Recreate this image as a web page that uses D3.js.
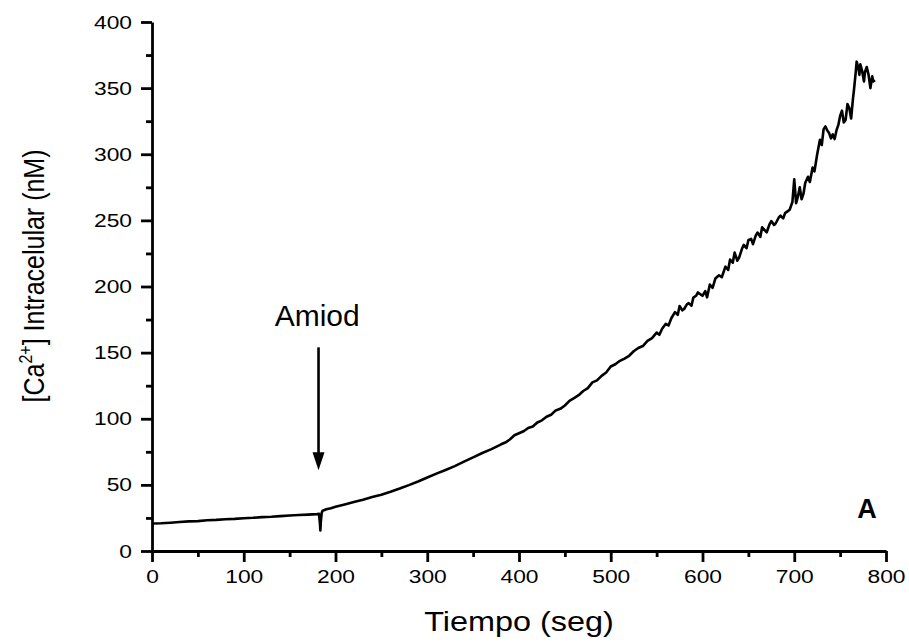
<!DOCTYPE html>
<meta charset="utf-8">
<style>
  body { margin: 0; background: #fff; }
  svg text { font-family: "Liberation Sans", Arial, sans-serif; fill: #000; }
</style>
<svg width="909" height="644"></svg>
<script src="https://cdn.jsdelivr.net/npm/d3@7"></script>
<script>

// time (seg) and intracellular calcium (nM)
var timeSec = [0, 10, 20, 30, 40, 50, 60, 70, 80, 90, 100, 110, 120, 130, 140, 150, 160, 170, 180,
  182, 183, 183.5, 184, 185, 186, 190, 195, 200, 210, 220, 230, 240, 250, 260, 270, 280, 290, 300,
  310, 320, 330, 340, 350, 360, 370, 380, 385, 390, 395,
  400, 405, 410, 415, 420, 425, 430, 435, 440, 445, 450, 455, 460, 465, 470, 475, 480, 485, 490, 495,
  500, 505, 510, 515, 520, 525, 530, 535, 540, 545, 550, 553, 556, 560, 563, 566, 570, 573, 575, 578,
  580, 583, 585, 588, 590, 593, 595, 598, 600, 603, 605, 608, 611, 614, 618, 621, 625, 628, 630, 633,
  635, 638, 640, 643, 645, 648, 650, 653, 655, 658, 660, 663, 665, 668, 670, 673, 675, 678, 680, 683,
  685, 688, 690, 693, 695, 698, 700, 702, 704, 706, 708, 710, 712, 715, 717, 720, 722, 725, 728, 730,
  732, 734, 736, 738, 740, 742, 744, 746, 748, 750, 752, 754, 756, 758, 760, 762, 764, 765, 767, 768,
  770, 771, 772, 774, 776, 777, 779, 781, 783, 785, 786, 788];
var caNM = [20.8, 21.0, 21.4, 21.9, 22.4, 22.6, 23.2, 23.5, 24.0, 24.3, 24.8, 25.1, 25.6, 25.9, 26.4, 26.8, 27.2, 27.5, 27.9,
  28.1, 21.0, 15.5, 22.0, 29.0, 30.5, 31.5, 32.4, 33.5, 35.2, 37.0, 38.8, 40.9, 42.6, 44.8, 47.2, 49.8, 52.6, 55.6,
  58.5, 61.3, 64.2, 67.6, 70.8, 74.1, 77.0, 80.5, 82.0, 84.3, 87.5,
  89.0, 90.5, 93.0, 94.2, 97.2, 98.8, 101.5, 103.0, 106.3, 107.5, 110.0, 113.5, 115.6, 117.8, 121.0, 123.2, 127.5, 129.0, 132.4, 135.0,
  139.5, 141.2, 143.8, 145.5, 147.6, 151.0, 153.5, 155.0, 158.9, 161.0, 165.1, 163.5, 168.0, 171.8, 170.5, 176.0, 180.6, 178.5, 185.2, 182.0,
  183.0, 186.5, 187.4, 185.5, 191.6, 193.0, 195.5, 194.0, 193.0, 196.5, 191.8, 201.5, 199.0, 206.0, 208.5, 207.0, 215.0, 212.5, 220.3, 218.0,
  225.6, 219.5, 222.0, 228.5, 231.5, 229.0, 235.0, 236.0, 232.0, 238.5, 240.8, 237.5, 244.8, 242.5, 241.0, 247.0, 249.5, 246.5, 248.0, 252.0,
  253.5, 251.5, 255.5, 257.0, 258.0, 264.0, 281.0, 263.0, 268.0, 275.0, 266.0, 270.0, 278.5, 283.0, 279.0, 290.0, 287.0, 300.0, 311.0, 307.0,
  319.0, 321.0, 318.0, 316.0, 312.0, 315.0, 311.5, 318.0, 322.0, 329.0, 333.0, 324.0, 326.0, 338.0, 335.0, 327.0, 342.0, 348.0, 362.0, 370.0,
  365.0, 360.0, 368.0, 363.0, 355.0, 362.0, 366.0, 360.0, 350.0, 359.0, 355.0, 356.0];

var xTicks = [0, 100, 200, 300, 400, 500, 600, 700, 800];
var yTicks = [0, 50, 100, 150, 200, 250, 300, 350, 400];

var svg = d3.select("svg");
var margin = {left: 152, top: 22, right: 23, bottom: 93};
var width = +svg.attr("width"), height = +svg.attr("height");
var stretch = 1.2;   // labels in the original look horizontally stretched

var x = d3.scaleLinear().domain([0, 800]).range([margin.left, width - margin.right]);
var y = d3.scaleLinear().domain([0, 400]).range([height - margin.bottom, margin.top]);

svg.append("rect").attr("width", width).attr("height", height).attr("fill", "#fff");

// minor ticks
svg.append("g")
  .attr("transform", "translate(0," + y(0) + ")")
  .call(d3.axisBottom(x).tickValues(d3.range(50, 800, 100)).tickSize(6).tickFormat(""))
  .call(function(g) { g.select(".domain").remove(); });
svg.append("g")
  .attr("transform", "translate(" + x(0) + ",0)")
  .call(d3.axisLeft(y).tickValues(d3.range(25, 400, 50)).tickSize(6).tickFormat(""))
  .call(function(g) { g.select(".domain").remove(); });

// major axes
var xAxis = svg.append("g")
  .attr("transform", "translate(0," + y(0) + ")")
  .call(d3.axisBottom(x).tickValues(xTicks).tickSize(11).tickSizeOuter(0).tickPadding(8));
var yAxis = svg.append("g")
  .attr("transform", "translate(" + x(0) + ",0)")
  .call(d3.axisLeft(y).tickValues(yTicks).tickSize(11).tickSizeOuter(0).tickPadding(8));

svg.selectAll(".tick line, .domain")
  .attr("stroke", "#000")
  .style("stroke-width", "2.8px");

xAxis.selectAll(".tick text")
  .attr("font-size", 19)
  .attr("font-family", "Liberation Sans, Arial, sans-serif")
  .attr("dy", "0.71em")
  .attr("y", 19)
  .attr("transform", "scale(" + stretch + ",1)")
  .attr("x", 0);
yAxis.selectAll(".tick text")
  .attr("font-size", 19)
  .attr("font-family", "Liberation Sans, Arial, sans-serif")
  .attr("x", -20 / stretch)
  .attr("transform", "scale(" + stretch + ",1)");

// trace
var pts = timeSec.map(function(t, i) { return [t, caNM[i]]; });
svg.append("path")
  .datum(pts)
  .attr("fill", "none")
  .attr("stroke", "#000")
  .attr("stroke-width", 2.6)
  .attr("stroke-linejoin", "round")
  .attr("d", d3.line().x(function(d) { return x(d[0]); }).y(function(d) { return y(d[1]); }));

// axis titles
svg.append("text")
  .attr("transform", "translate(" + ((x(0) + x(800)) / 2) + ",631) scale(" + stretch + ",1)")
  .attr("text-anchor", "middle")
  .attr("font-size", 27)
  .text("Tiempo (seg)");

var yt = svg.append("text")
  .attr("transform", "translate(44,276) rotate(-90) scale(1," + stretch + ")")
  .attr("text-anchor", "middle")
  .attr("font-size", 25);
yt.append("tspan").text("[Ca");
yt.append("tspan").attr("font-size", 16).attr("dy", -10).text("2+");
yt.append("tspan").attr("dy", 10).text("] Intracelular (nM)");

// annotation: arrow at the moment of addition
var arrowX = 181.5;
var tipY = y(61);
svg.append("line")
  .attr("x1", x(arrowX)).attr("x2", x(arrowX))
  .attr("y1", y(154)).attr("y2", tipY - 16)
  .attr("stroke", "#000").attr("stroke-width", 2.6);
svg.append("path")
  .attr("d", "M" + x(arrowX) + "," + tipY + "l-6,-18h12z")
  .attr("fill", "#000");
svg.append("text")
  .attr("x", x(180)).attr("y", 326)
  .attr("text-anchor", "middle")
  .attr("font-family", "DejaVu Sans, sans-serif")
  .attr("font-size", 30)
  .text("Amiod");

svg.append("text")
  .attr("x", 867).attr("y", 518)
  .attr("text-anchor", "middle")
  .attr("font-weight", "bold")
  .attr("font-size", 27)
  .text("A");

</script>
